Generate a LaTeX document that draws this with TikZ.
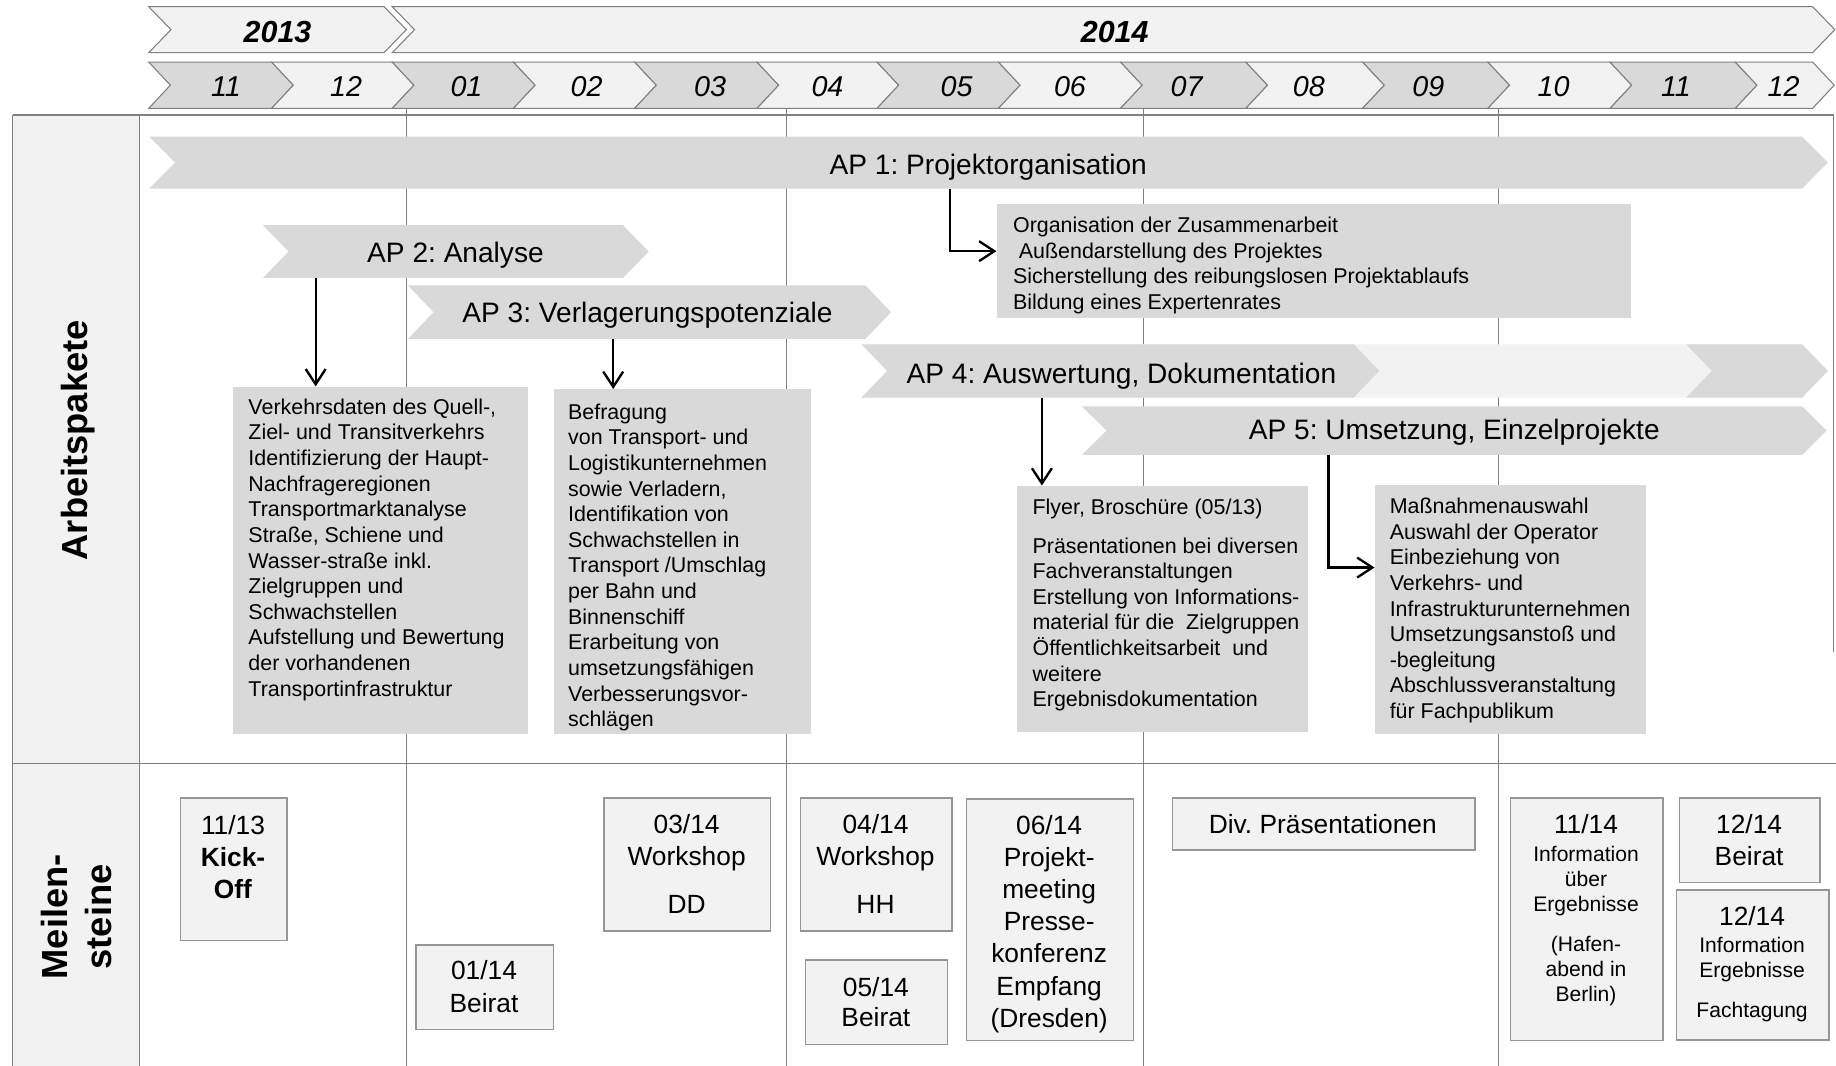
\documentclass[tikz,border=0pt]{standalone}
\usepackage{fontspec}
\setmainfont{Liberation Sans}
\usetikzlibrary{arrows.meta}
\definecolor{dk}{HTML}{D9D9D9}
\definecolor{lt}{HTML}{F2F2F2}
\definecolor{ln}{HTML}{808080}
\definecolor{bd}{HTML}{969696}
\newcommand{\chevshape}[6]{\path[#1] (#2,#4) -- (#3,#4) -- ({#3+#6},{(#4+#5)/2}) -- (#3,#5) -- (#2,#5) -- ({#2+#6},{(#4+#5)/2}) -- cycle;}
\frenchspacing
\begin{document}
\begin{tikzpicture}[x=1pt,y=-1pt,
  chev/.style={draw=ln, line width=0.9pt, line join=miter},
  gridline/.style={draw=ln, line width=0.9pt},
  frameline/.style={draw=ln, line width=1.6pt},
  barlabel/.style={font=\fontsize{24}{28}\selectfont\frenchspacing, inner sep=0, anchor=base},
  monthlabel/.style={font=\fontsize{24.5}{28}\selectfont\itshape, inner sep=0, anchor=base},
  yearlabel/.style={font=\fontsize{26}{30}\selectfont\bfseries\itshape, inner sep=0, anchor=base},
  descbox/.style={fill=dk, inner sep=0, anchor=north west},
  desctext/.style={font=\fontsize{18.3}{21.9}\selectfont\frenchspacing, align=left, inner sep=0, anchor=north west},
  msbox/.style={fill=lt, draw=bd, line width=1.2pt, inner sep=0, anchor=north west},
  mstext/.style={font=\fontsize{22.5}{27.4}\selectfont\frenchspacing, align=center, inner sep=0, anchor=north},
  mssmall/.style={font=\fontsize{18}{21.4}\selectfont, align=center, inner sep=0, anchor=north},
  arr/.style={draw=black, line width=2pt, -{Straight Barb[length=13pt,width=17pt]}},
  sidelabel/.style={font=\fontsize{31}{37.5}\selectfont\bfseries, align=center, rotate=90, inner sep=0}
]
\fill[white] (0,0) rectangle (1568,910);
\useasboundingbox (0,0) rectangle (1568,910);

% years
\chevshape{chev,fill=lt}{127}{328}{5.7}{45}{19}
\chevshape{chev,fill=lt}{335}{1548}{5.7}{45}{19}
\node[yearlabel] (y13) at (237,36.4) {2013};
\node[yearlabel] (y14) at (952,36.4) {2014};

% months
\foreach \xl/\xr/\c in {127/232/dk, 232/335/lt, 335/438.5/dk, 438.5/542/lt, 542/646.5/dk, 646.5/749/lt, 749/852.7/dk, 852.7/957/lt, 957/1064/dk, 1064/1163.7/lt, 1163.7/1270.7/dk, 1270.7/1375/lt, 1375/1482/dk, 1482/1548/lt}
  {\chevshape{chev,fill=\c}{\xl}{\xr}{53}{92.5}{18.5}}
\foreach \x/\t [count=\i] in {193/11, 295.6/12, 398.4/01, 501/02, 606.4/03, 706.7/04, 817/05, 913.8/06, 1013.3/07, 1117.8/08, 1219.8/09, 1326.8/10, 1431.3/11, 1523.2/12}
  {\node[monthlabel] (m\i) at (\x,82.6) {\t};}

% table frame
\fill[lt] (11,98) rectangle (119.5,910);
\draw[gridline] (11,98) -- (11,910);
\draw[gridline] (119.5,98) -- (119.5,910);
\foreach \x in {347.5, 671.5, 976.6, 1280}
  {\draw[gridline] (\x,92.5) -- (\x,910);}
\draw[frameline] (11,98) -- (1566,98);
\draw[gridline] (1566,98) -- (1566,557);
\draw[frameline] (11,652) -- (1568,652);

% side labels
\node[sidelabel] (lap) at (66.4,376) {Arbeitspakete};
\node[sidelabel] (lms) at (65,783) {Meilen-\\steine};

% work package bars
\chevshape{fill=dk}{127.5}{1539}{116.7}{161}{22}
\node[barlabel] (ap1) at (844,149) {AP 1: Projektorganisation};
\chevshape{fill=dk}{224.5}{532}{192.3}{237.4}{22}
\node[barlabel] (ap2) at (389,223.8) {AP 2: Analyse};
\chevshape{fill=dk}{348.3}{739}{243.7}{289.5}{22}
\node[barlabel] (ap3) at (553,275.3) {AP 3: Verlagerungspotenziale};
\chevshape{fill=lt}{735.7}{1539}{294}{339.5}{22}
\chevshape{fill=dk}{735.7}{1156}{294}{339.5}{22}
\chevshape{fill=dk}{1440}{1539}{294}{339.5}{22}
\node[barlabel] (ap4) at (957.7,327.5) {AP 4: Auswertung, Dokumentation};
\chevshape{fill=dk}{924}{1539}{347}{388.5}{21}
\node[barlabel] (ap5) at (1242,375.2) {AP 5: Umsetzung, Einzelprojekte};

% description boxes
\node[descbox, minimum width=542pt, minimum height=97pt] (box1) at (851,174.2) {};
\node[desctext] (t1) at (865,183.1) {\strut Organisation der Zusammenarbeit\\\hspace*{5pt}Außendarstellung des Projektes\\Sicherstellung des reibungslosen Projektablaufs\\Bildung eines Expertenrates};

\node[descbox, minimum width=252.5pt, minimum height=296.6pt] (box2) at (198.5,330) {};
\node[desctext] (t2) at (212,338.2) {\strut Verkehrsdaten des Quell-,\\Ziel- und Transitverkehrs\\Identifizierung der Haupt-\\Nachfrageregionen\\Transportmarktanalyse\\Straße, Schiene und\\Wasser-straße inkl.\\Zielgruppen und\\Schwachstellen\\Aufstellung und Bewertung\\der vorhandenen\\Transportinfrastruktur};

\node[descbox, minimum width=220pt, minimum height=294.4pt] (box3) at (472.6,332.2) {};
\node[desctext] (t3) at (485,342.4) {\strut Befragung\\von Transport- und\\Logistikunternehmen\\sowie Verladern,\\Identifikation von\\Schwachstellen in\\Transport /Umschlag\\per Bahn und\\Binnenschiff\\Erarbeitung von\\umsetzungsfähigen\\Verbesserungsvor-\\schlägen};

\node[descbox, minimum width=248.3pt, minimum height=210.3pt] (box4) at (868.5,414.7) {};
\node[desctext] (t4) at (881.7,423.9) {\strut Flyer, Broschüre (05/13)\\[11pt]Präsentationen bei diversen\\Fachveranstaltungen\\Erstellung von Informations-\\material für die~ Zielgruppen\\Öffentlichkeitsarbeit~ und\\weitere\\Ergebnisdokumentation};

\node[descbox, minimum width=232pt, minimum height=212.8pt] (box5) at (1173.9,413.8) {};
\node[desctext] (t5) at (1186.7,423) {\strut Maßnahmenauswahl\\Auswahl der Operator\\Einbeziehung von\\Verkehrs- und\\Infrastrukturunternehmen\\Umsetzungsanstoß und\\-begleitung\\Abschlussveranstaltung\\für Fachpublikum};

% arrows
\coordinate (a1) at (811.3,161);
\coordinate (a2) at (269.6,237.4);
\coordinate (a3) at (523.7,289.5);
\coordinate (a4) at (889.8,339.5);
\coordinate (a5) at (1134.6,388.5);
\draw[arr] (a1) |- ([yshift=8.4pt]box1.west);
\draw[arr] (a2) -- (a2 |- box2.north);
\draw[arr] (a3) -- (a3 |- box3.north);
\draw[arr] (a4) -- (a4 |- box4.north);
\draw[arr] (a5) |- ([yshift=35.7pt]box5.west);

% milestones
\node[msbox, minimum width=91.2pt, minimum height=121.8pt] (k1) at (153.4,680.9) {};
\node[mstext] (k1t) at (199,693.4) {\strut 11/13\\\textbf{Kick-}\\\textbf{Off}};

\node[msbox, minimum width=117.2pt, minimum height=72.1pt] (k2) at (354.8,806.4) {};
\node[mstext] (k2t) at (413.4,817.3) {\strut 01/14\\[1pt]Beirat};

\node[msbox, minimum width=142.4pt, minimum height=113.6pt] (k3) at (515.2,680.9) {};
\node[mstext] (k3t) at (586.4,692.6) {\strut 03/14\\Workshop\\[13pt]DD};

\node[msbox, minimum width=129.4pt, minimum height=113.5pt] (k4) at (683,681) {};
\node[mstext] (k4t) at (747.7,692.6) {\strut 04/14\\Workshop\\[13pt]HH};

\node[msbox, minimum width=120.9pt, minimum height=72.3pt] (k5) at (687.5,819.2) {};
\node[mstext] (k5t) at (748,831.5) {\strut 05/14\\[-1.8pt]Beirat};

\node[msbox, minimum width=142.7pt, minimum height=206.4pt] (k6) at (824.7,681.7) {};
\node[mstext] (k6t) at (896,693.4) {\strut 06/14\\Projekt-\\meeting\\Presse-\\konferenz\\Empfang\\(Dresden)};

\node[msbox, minimum width=258.5pt, minimum height=44.3pt] (k7) at (1000.5,681) {};
\node[mstext] (k7t) at (1129.7,692.6) {\strut Div. Präsentationen};

\node[msbox, minimum width=130.1pt, minimum height=207pt] (k8) at (1289.5,681) {};
\node[mstext] (k8t) at (1354.5,692.6) {\strut 11/14};
\node[mssmall] (k8s) at (1354.5,720.2) {\strut Information\\über\\Ergebnisse\\[12.8pt](Hafen-\\abend in\\Berlin)};

\node[msbox, minimum width=119.8pt, minimum height=72pt] (k9) at (1433.9,681) {};
\node[mstext] (k9t) at (1493.8,692.6) {\strut 12/14\\Beirat};

\node[msbox, minimum width=130.1pt, minimum height=128pt] (k10) at (1431.3,759.5) {};
\node[mstext] (k10t) at (1496.3,771.1) {\strut 12/14};
\node[mssmall] (k10s) at (1496.3,798.5) {\strut Information\\Ergebnisse\\[12.2pt]Fachtagung};
\end{tikzpicture}
\end{document}
